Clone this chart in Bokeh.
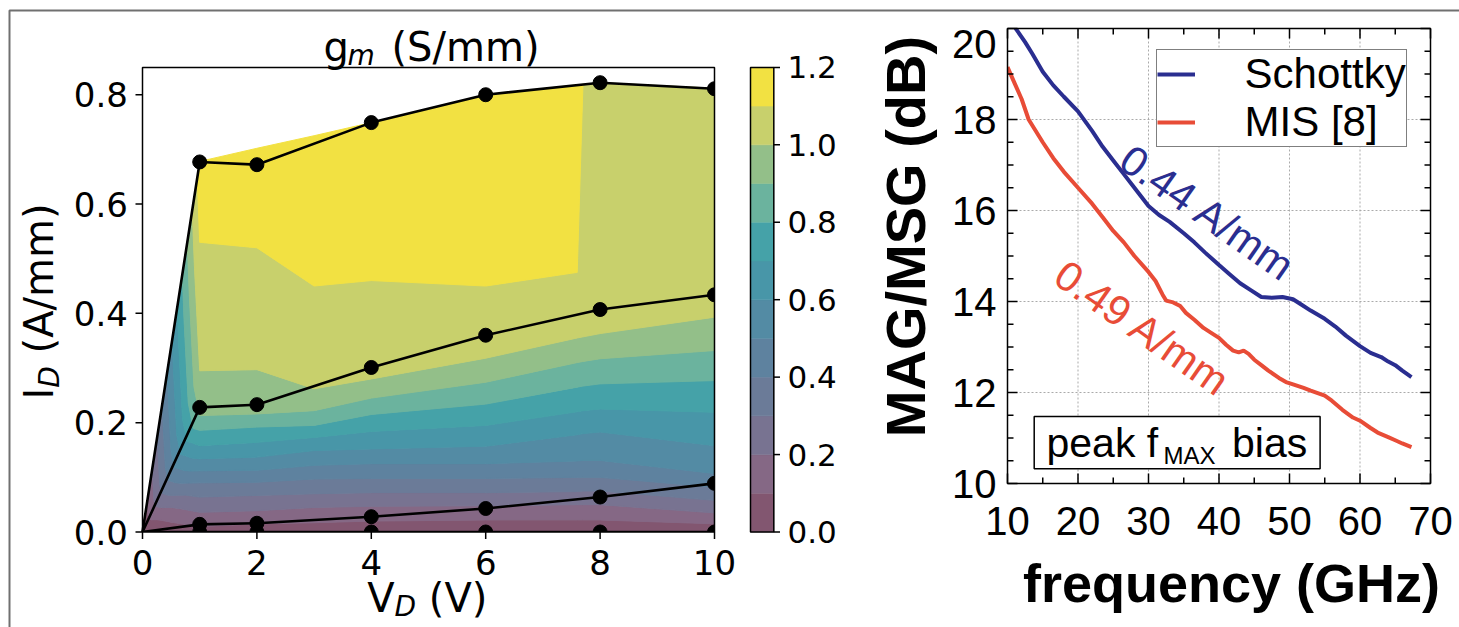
import math
import numpy as np
from bokeh.plotting import figure
from bokeh.models import Range1d, Label, Legend, LegendItem
from bokeh.core.properties import value
from bokeh.embed import file_html
from bokeh.resources import INLINE

# ---------------- left panel data ----------------
vd_points = [0, 1, 2, 4, 6, 8, 10]
id_curve_1 = [0.0, 0.677, 0.672, 0.749, 0.800, 0.822, 0.811]
id_curve_2 = [0.0, 0.228, 0.233, 0.301, 0.360, 0.407, 0.434]
id_curve_3 = [0.0, 0.014, 0.016, 0.028, 0.043, 0.064, 0.089]
id_curve_4 = [0.0, 0.0, 0.0, 0.0, 0.0, 0.0, 0.0]

vd_ticks = [0, 2, 4, 6, 8, 10]
id_ticks = [0.0, 0.2, 0.4, 0.6, 0.8]
vd_span = (0, 10)
id_span = (0.0, 0.85)

gm_levels = [0.0, 0.1, 0.2, 0.3, 0.4, 0.5, 0.6, 0.7, 0.8, 0.9, 1.0, 1.1, 1.2]
gm_colors = ["#825670", "#856885", "#787391", "#6b7b98", "#5e829f", "#538ba4",
             "#4896a8", "#45a2a8", "#6bb39e", "#93bf89", "#c8d06c", "#f2e142"]
gm_ticks = [0.0, 0.2, 0.4, 0.6, 0.8, 1.0, 1.2]

# g_m map: drain current at which g_m crosses each level, for each V_D column
vd_grid = [0, 1, 2, 3, 4, 6, 7.6, 7.7, 8, 10]
id_top_env = [0, 0.678, 0.702, 0.725, 0.749, 0.800, 0.818, 0.819, 0.822, 0.812]
gm_top = [0, 1.15, 1.15, 1.15, 1.15, 1.15, 1.15, 1.10, 1.10, 1.10]
id_gm_01 = [0, 0.010, 0.015, 0.017, 0.020, 0.022, 0.022, 0.022, 0.022, 0.015]
id_gm_02 = [0, 0.036, 0.039, 0.045, 0.047, 0.048, 0.050, 0.050, 0.050, 0.035]
id_gm_03 = [0, 0.064, 0.067, 0.070, 0.072, 0.072, 0.074, 0.075, 0.075, 0.058]
id_gm_04 = [0, 0.090, 0.091, 0.097, 0.098, 0.098, 0.100, 0.100, 0.100, 0.082]
id_gm_05 = [0, 0.112, 0.113, 0.122, 0.125, 0.125, 0.130, 0.131, 0.131, 0.107]
id_gm_06 = [0, 0.134, 0.137, 0.149, 0.152, 0.157, 0.178, 0.180, 0.183, 0.158]
id_gm_07 = [0, 0.158, 0.164, 0.173, 0.184, 0.195, 0.220, 0.222, 0.225, 0.219]
id_gm_08 = [0, 0.186, 0.192, 0.195, 0.215, 0.234, 0.265, 0.267, 0.271, 0.277]
id_gm_09 = [0, 0.213, 0.216, 0.222, 0.245, 0.274, 0.310, 0.312, 0.317, 0.332]
id_gm_10 = [0, 0.295, 0.297, 0.262, 0.280, 0.318, 0.355, 0.357, 0.363, 0.393]
id_gm_11 = [0, 0.530, 0.520, 0.450, 0.460, 0.450, 0.475, 0.819, 0.822, 0.812]

# ---------------- right panel data ----------------
f_schottky = [10.0, 11.3, 12.5, 13.5, 15.0, 16.5, 18.0, 20.0, 22.0, 23.5, 25.0, 26.5, 28.0,
              30.0, 31.5, 33.0, 35.0, 36.5, 38.0, 40.0, 41.5, 43.0, 44.5, 46.0, 47.5, 49.0,
              50.5, 51.5, 53.0, 55.0, 56.5, 58.0, 60.0, 61.5, 63.0, 64.0, 65.0, 66.0, 67.3]
g_schottky = [20.3, 19.97, 19.7, 19.45, 19.05, 18.75, 18.5, 18.18, 17.75, 17.4, 17.1, 16.8, 16.5,
              16.1, 15.9, 15.75, 15.5, 15.3, 15.08, 14.8, 14.6, 14.4, 14.25, 14.1, 14.08, 14.1,
              14.05, 13.95, 13.8, 13.62, 13.45, 13.25, 13.02, 12.87, 12.78, 12.68, 12.6, 12.48, 12.34]
f_mis = [10.0, 11.0, 12.0, 13.0, 15.0, 16.5, 18.0, 20.0, 22.0, 23.5, 25.0, 26.5, 28.0, 30.0,
         31.0, 32.0, 32.5, 33.5, 34.5, 35.3, 36.5, 37.8, 39.0, 40.0, 41.0, 42.0, 42.8, 43.5,
         44.2, 45.0, 46.0, 47.0, 48.5, 49.5, 50.5, 52.0, 53.0, 55.0, 56.0, 57.5, 59.0, 60.0,
         61.5, 62.5, 64.0, 65.0, 66.0, 67.3]
g_mis = [19.15, 18.8, 18.45, 18.0, 17.5, 17.15, 16.85, 16.5, 16.15, 15.85, 15.55, 15.3, 15.0, 14.65,
         14.45, 14.15, 14.02, 13.98, 13.9, 13.75, 13.6, 13.42, 13.3, 13.2, 13.05, 12.92, 12.88, 12.92,
         12.85, 12.72, 12.6, 12.48, 12.32, 12.23, 12.18, 12.1, 12.04, 11.93, 11.82, 11.62, 11.45, 11.38,
         11.22, 11.12, 11.02, 10.95, 10.88, 10.8]
freq_ticks = [10, 20, 30, 40, 50, 60, 70]
freq_minor = [15, 25, 35, 45, 55, 65]
gain_ticks = [10, 12, 14, 16, 18, 20]
gain_minor = [10.5, 11, 11.5, 12.5, 13, 13.5, 14.5, 15, 15.5, 16.5, 17, 17.5, 18.5, 19, 19.5]

BLUE = "#2a2e90"
RED = "#e84c37"
DJ = "DejaVu Sans"
AR = "Liberation Sans"
W, H = 1459, 627


# pixel <-> data helpers (left panel: V_D / I_D ; right panel: GHz / dB)
def LX(px):
    return (px - 142) / 57.2


def LY(py):
    return (531.5 - py) / 546.6


def RX(px):
    return 10 + (px - 1007) / 7.05


def RY(py):
    return 20 - (py - 28) / 45.5


p = figure(width=W, height=H, output_backend="svg", toolbar_location=None,
           x_range=Range1d(LX(0), LX(W)), y_range=Range1d(LY(H), LY(0)),
           x_axis_location=None, y_axis_location=None, min_border=0)
p.extra_x_ranges = {"f": Range1d(RX(0), RX(W))}
p.extra_y_ranges = {"db": Range1d(RY(H), RY(0))}
p.outline_line_color = None
p.grid.visible = False
p.background_fill_color = "white"
p.border_fill_color = "white"
R = dict(x_range_name="f", y_range_name="db")


def lab(x, y, text, size, font, style="normal", color="black", align="left",
        angle=0.0, right=False):
    kw = R if right else {}
    p.add_layout(Label(x=x, y=y, text=text, text_font_size=size, text_font=font,
                       text_font_style=style, text_color=color, text_align=align,
                       text_baseline="middle", angle=angle, **kw))


# ======================= left panel =======================
ncol = len(vd_grid)
level_rows = [id_gm_01, id_gm_02, id_gm_03, id_gm_04, id_gm_05, id_gm_06,
              id_gm_07, id_gm_08, id_gm_09, id_gm_10, id_gm_11]
rows_id = [[0.0] * ncol] + level_rows + [id_top_env]
rows_gm = [[0.0] * ncol] + [[0.0] + [lv] * (ncol - 1) for lv in gm_levels[1:12]] + [gm_top]
X = np.tile(np.array(vd_grid, dtype=float), (len(rows_id), 1))
Y = np.array(rows_id, dtype=float)
Z = np.array(rows_gm, dtype=float)

drawn = False
try:
    from bokeh.plotting.contour import contour_data
    cd = contour_data(X, Y, Z, gm_levels, want_fill=True, want_line=False)
    fd = cd.fill_data
    lows = list(fd.lower_levels)
    cols = [gm_colors[min(range(len(gm_levels) - 1), key=lambda k: abs(gm_levels[k] - lo))] for lo in lows]
    p.multi_polygons(xs=fd.xs, ys=fd.ys, fill_color=cols, line_color=cols, line_width=1)
    drawn = True
except Exception:
    drawn = False
if not drawn:
    p.contour(X, Y, Z, levels=gm_levels, fill_color=gm_colors, line_color=None)

for ids in [id_curve_1, id_curve_2, id_curve_3, id_curve_4]:
    p.line(vd_points, ids, line_color="black", line_width=2.6)
    p.scatter(vd_points[1:], ids[1:], size=14, color="black")

# masks emulate the clipping at the axes box
p.quad(left=LX(120), right=LX(730), bottom=LY(546), top=id_span[0], fill_color="white", line_color=None)
p.quad(left=vd_span[1], right=LX(738), bottom=LY(546), top=LY(60), fill_color="white", line_color=None)

p.quad(left=vd_span[0], right=vd_span[1], bottom=id_span[0], top=id_span[1],
       fill_color=None, line_color="black", line_width=1.5)
p.segment(x0=vd_ticks, y0=[0] * len(vd_ticks), x1=vd_ticks, y1=[LY(538.5)] * len(vd_ticks),
          line_color="black", line_width=1.5)
p.segment(x0=[0] * len(id_ticks), y0=id_ticks, x1=[LX(135)] * len(id_ticks), y1=id_ticks,
          line_color="black", line_width=1.5)
p.text(x=vd_ticks, y=[LY(561.5)] * len(vd_ticks), text=[str(t) for t in vd_ticks],
       text_font=value(DJ), text_font_size=value("34px"), text_align="center",
       text_baseline="middle", text_color="black")
p.text(x=[LX(127.4)] * len(id_ticks), y=id_ticks,
       text=["%.1f" % t for t in id_ticks], text_font=value(DJ), text_font_size=value("34px"),
       text_align="right", text_baseline="middle", text_color="black")

# colour bar (gm scale mapped onto the I_D axis height)
cbk = id_span[1] / gm_levels[-1]
cb_l, cb_r = LX(750), LX(773.3)
p.quad(left=cb_l, right=cb_r, bottom=[v * cbk for v in gm_levels[:-1]],
       top=[v * cbk for v in gm_levels[1:]], fill_color=gm_colors, line_color=gm_colors, line_width=0.5)
p.quad(left=cb_l, right=cb_r, bottom=0, top=gm_levels[-1] * cbk, fill_color=None,
       line_color="black", line_width=1.5)
p.segment(x0=[cb_r] * len(gm_ticks), y0=[v * cbk for v in gm_ticks], x1=[LX(779.5)] * len(gm_ticks),
          y1=[v * cbk for v in gm_ticks], line_color="black", line_width=1.5)
p.text(x=[LX(787)] * len(gm_ticks), y=[v * cbk for v in gm_ticks],
       text=["%.1f" % v for v in gm_ticks], text_font=value(DJ), text_font_size=value("31px"),
       text_align="left", text_baseline="middle", text_color="black")

# title g_m (S/mm)
lab(LX(323), LY(46), "g", "40px", DJ)
lab(LX(347), LY(55), "m", "28px", DJ, style="italic")
lab(LX(391), LY(46), "(S/mm)", "40px", DJ)
# y label I_D (A/mm)
lab(LX(38.9), LY(399), "I", "40px", DJ, angle=math.pi / 2)
lab(LX(48.9), LY(387.2), "D", "28px", DJ, style="italic", angle=math.pi / 2)
lab(LX(38.9), LY(352.9), "(A/mm)", "40px", DJ, angle=math.pi / 2)
# x label V_D (V)
lab(LX(366.7), LY(597.5), "V", "40px", DJ)
lab(LX(394), LY(605.5), "D", "28px", DJ, style="italic")
lab(LX(428.3), LY(597.5), "(V)", "40px", DJ)

# outer frame of the figure
p.line(x=[LX(9), LX(9), LX(W)], y=[LY(H), LY(10), LY(10)], line_color="#707070", line_width=2)

# ======================= right panel =======================
f0, f1 = freq_ticks[0], freq_ticks[-1]
g0, g1 = gain_ticks[0], gain_ticks[-1]
grid_kw = dict(line_color="#aaaaaa", line_width=1, line_dash="2 2", **R)
p.segment(x0=freq_ticks[1:-1], y0=[g0] * 5, x1=freq_ticks[1:-1], y1=[g1] * 5, **grid_kw)
p.segment(x0=[f0] * 4, y0=gain_ticks[1:-1], x1=[f1] * 4, y1=gain_ticks[1:-1], **grid_kw)

blue = p.line(f_schottky, g_schottky, line_color=BLUE, line_width=4, **R)
red = p.line(f_mis, g_mis, line_color=RED, line_width=4, **R)

# masks emulate clipping at the axes box (top and left)
p.quad(left=RX(997), right=RX(1440), bottom=g1, top=RY(12), fill_color="white", line_color=None, **R)
p.quad(left=RX(997), right=f0, bottom=g0, top=g1, fill_color="white", line_color=None, **R)

p.quad(left=f0, right=f1, bottom=g0, top=g1, fill_color=None, line_color="black", line_width=1.5, **R)

tk = dict(line_color="black", line_width=1.5, **R)
maj_y, min_y = 10 / 45.5, 6 / 45.5
maj_x, min_x = 10 / 7.05, 6 / 7.05
n, m = len(freq_ticks), len(freq_minor)
p.segment(x0=freq_ticks, y0=[g0] * n, x1=freq_ticks, y1=[g0 + maj_y] * n, **tk)
p.segment(x0=freq_minor, y0=[g0] * m, x1=freq_minor, y1=[g0 + min_y] * m, **tk)
p.segment(x0=freq_ticks, y0=[g1] * n, x1=freq_ticks, y1=[g1 - maj_y] * n, **tk)
p.segment(x0=freq_minor, y0=[g1] * m, x1=freq_minor, y1=[g1 - min_y] * m, **tk)
n, m = len(gain_ticks), len(gain_minor)
p.segment(x0=[f0] * n, y0=gain_ticks, x1=[f0 + maj_x] * n, y1=gain_ticks, **tk)
p.segment(x0=[f0] * m, y0=gain_minor, x1=[f0 + min_x] * m, y1=gain_minor, **tk)
p.segment(x0=[f1] * n, y0=gain_ticks, x1=[f1 - maj_x] * n, y1=gain_ticks, **tk)
p.segment(x0=[f1] * m, y0=gain_minor, x1=[f1 - min_x] * m, y1=gain_minor, **tk)

p.text(x=freq_ticks, y=[RY(520)] * len(freq_ticks), text=[str(t) for t in freq_ticks],
       text_font=value(AR), text_font_size=value("40px"), text_align="center",
       text_baseline="middle", text_color="black", **R)
ylab_y = list(gain_ticks[:-1]) + [RY(43.3)]
p.text(x=[RX(996)] * len(gain_ticks), y=ylab_y, text=[str(t) for t in gain_ticks],
       text_font=value(AR), text_font_size=value("40px"), text_align="right",
       text_baseline="middle", text_color="black", **R)

legend = Legend(items=[LegendItem(label="Schottky", renderers=[blue]),
                       LegendItem(label="MIS [8]", renderers=[red])],
                location=(1155.6, H - 147), margin=0, padding=0, spacing=0,
                glyph_width=38, glyph_height=48, label_height=48, label_standoff=50,
                label_text_font=AR, label_text_font_size="42px", label_text_color="black",
                border_line_color="black", border_line_width=1.5,
                background_fill_color="white", background_fill_alpha=1)
p.add_layout(legend)

p.quad(left=RX(1033.7), right=RX(1319.6), bottom=RY(468.3), top=RY(416),
       fill_color="white", line_color="black", line_width=1.5, **R)
lab(RX(1046), RY(442), "peak f", "41px", AR, right=True)
lab(RX(1163), RY(454.7), "MAX", "24px", AR, right=True)
lab(RX(1231.5), RY(442), "bias", "41px", AR, right=True)

ang = -35 * math.pi / 180
lab(38.44, 15.94, "0.44 A/mm", "42px", AR, color=BLUE, align="center", angle=ang, right=True)
lab(29.2, 13.41, "0.49 A/mm", "42px", AR, color=RED, align="center", angle=ang, right=True)

lab(RX(904.8), RY(236), "MAG/MSG (dB)", "56px", AR, style="bold", align="center",
    angle=math.pi / 2, right=True)
lab(RX(1231), RY(582.6), "frequency (GHz)", "54px", AR, style="bold", align="center", right=True)

open("out.html", "w").write(file_html(p, INLINE))
